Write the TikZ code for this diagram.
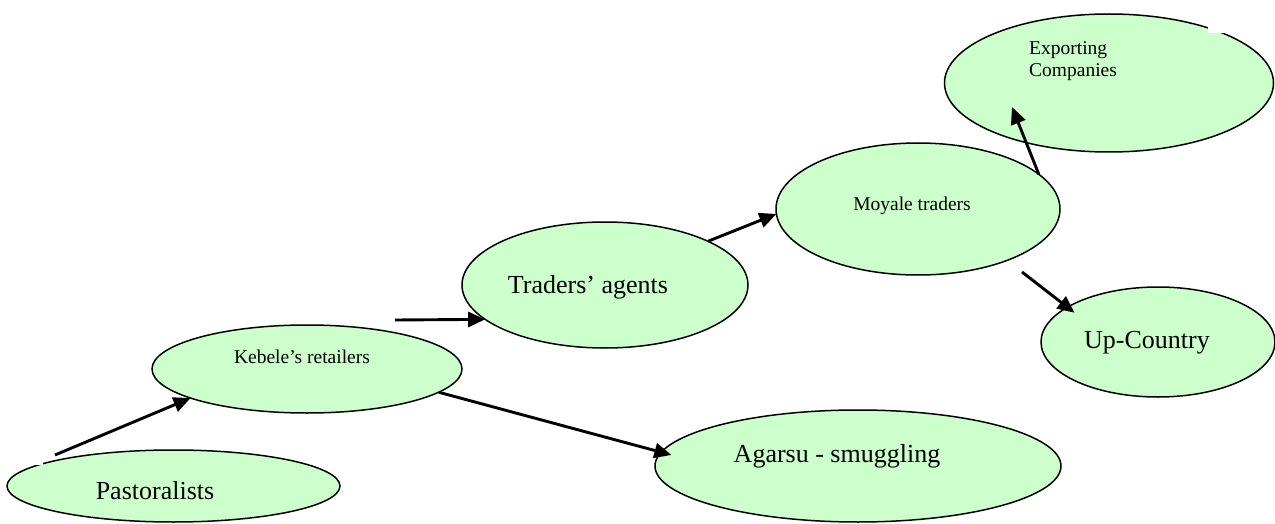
\documentclass[tikz,border=0pt]{standalone}
\usepackage{fontspec}
\setmainfont{Liberation Serif}
\usetikzlibrary{shapes.geometric,arrows.meta}
\definecolor{paleGreen}{HTML}{CCFFCC}
\begin{document}
\begin{tikzpicture}[x=1pt,y=-1pt,
  oval/.style={ellipse,draw=black,line width=1.5pt,fill=paleGreen,inner sep=0pt,outer sep=0pt},
  bigtext/.style={font=\fontsize{26}{30}\selectfont,inner sep=0pt,anchor=base},
  smalltext/.style={font=\fontsize{19.5}{22}\selectfont,inner sep=0pt,anchor=base},
  link/.style={line width=2.9pt,-{Triangle[length=17pt,width=15pt]}}]
\useasboundingbox (0,0) rectangle (1275,524);

% market actors
\node[oval,minimum width=333pt,minimum height=72pt]  (pastoral)  at (173.5,486) {};
\node[oval,minimum width=310pt,minimum height=88pt]  (kebele)    at (307,369) {};
\node[oval,minimum width=286pt,minimum height=126pt] (traders)   at (605,285) {};
\node[oval,minimum width=284pt,minimum height=132pt] (moyale)    at (918,209) {};
\node[oval,minimum width=329pt,minimum height=138pt] (export)    at (1109,83) {};
\node[oval,minimum width=234pt,minimum height=110pt] (upcountry) at (1158,342) {};
\node[oval,minimum width=406pt,minimum height=112pt] (agarsu)    at (858,466) {};

% small gaps in two outlines
\fill[white] (1208,26) rectangle (1227,33);
\fill[white] (34,459) rectangle (43,465);

% labels
\node[bigtext]   (pastoral-label)  at (155,499) {Pastoralists};
\node[smalltext] (kebele-label)    at (302,363) {Kebele’s retailers};
\node[bigtext]   (traders-label)   at (588,293) {Traders’ agents};
\node[smalltext] (moyale-label)    at (912,211) {Moyale traders};
\node[smalltext,align=left,anchor=base west] (export-label) at (1029,77) {Exporting\\Companies};
\node[bigtext]   (upcountry-label) at (1147,348) {Up-Country};
\node[bigtext]   (agarsu-label)    at (837,462) {Agarsu - smuggling};

% free arrow ends
\coordinate (pk-tail) at (55,455);
\coordinate (kt-tail) at (395,320);
\coordinate (me-head) at (1012,107);
\coordinate (mu-tail) at (1022,272);

% flows
\draw[link] (pk-tail) -- (kebele.194.5);
\draw[link] (kt-tail) -- (traders.196);
\draw[link,shorten >=-10.5pt] (kebele.-10.3) -- (agarsu.176.65);
\draw[link] (traders.23.2) -- (moyale.182.4);
\draw[link] (moyale.16.5) -- (me-head);
\draw[link,shorten >=-9pt] (mu-tail) -- (upcountry.159.5);
\end{tikzpicture}
\end{document}
